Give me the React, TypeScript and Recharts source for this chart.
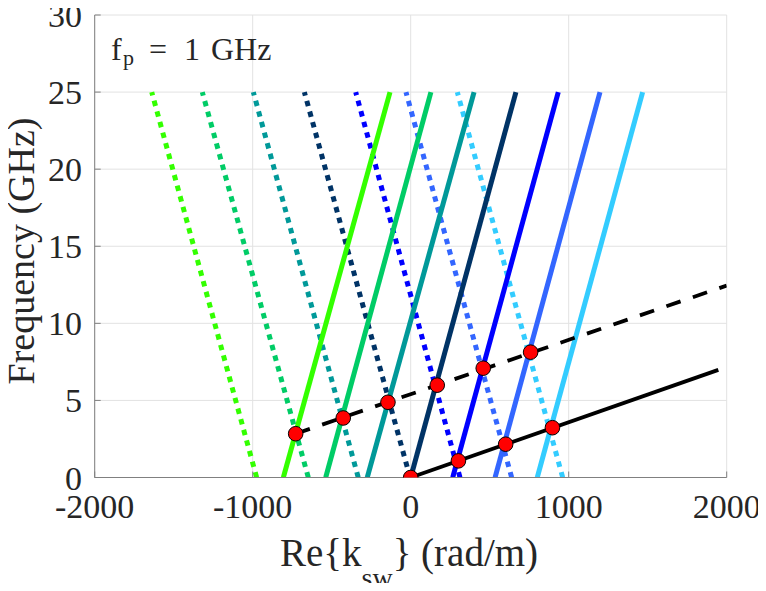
import {
  CartesianGrid,
  ComposedChart,
  Line,
  Scatter,
  XAxis,
  YAxis,
} from "recharts";

// colours of the seven harmonics, left to right
const harmonicColors = [
  "#33FF00",
  "#00CC66",
  "#009999",
  "#003366",
  "#0000FF",
  "#3366FF",
  "#33CCFF",
];

// each harmonic line runs from f = 0 to f = 25 GHz
const lineFreqs = [0, 25];

// forward (solid) harmonics: k at 0 GHz and at 25 GHz
const solidK0 = [-806, -538, -275, 0, 266, 534, 801];
const solidK25 = [-131, 128, 401, 666, 934, 1198, 1468];

// backward (dotted) harmonics: k at 0 GHz and at 25 GHz
const dottedK0 = [-975, -648, -332, -4, 312, 639, 962];
const dottedK25 = [-1639, -1319, -996, -673, -348, -30, 295];

// black solid line (pump) and black dashed line
const pumpK = [0, 1947];
const pumpF = [0, 6.98];
const dashK = [-728, 2000];
const dashF = [2.84, 12.45];

// red intersection markers
const dotK = [0, 302, 601, 897, -728, -427, -144, 168, 459, 759];
const dotF = [0, 1.08, 2.16, 3.23, 2.84, 3.86, 4.88, 5.99, 7.09, 8.13];

const xTicks = [-2000, -1000, 0, 1000, 2000];
const yTicks = [0, 5, 10, 15, 20, 25, 30];

const toRows = (ks: number[], fs: number[]) =>
  ks.map((k, i) => ({ k, f: fs[i] }));

const solidLines = solidK0.map((k0, i) => toRows([k0, solidK25[i]], lineFreqs));
const dottedLines = dottedK0.map((k0, i) =>
  toRows([k0, dottedK25[i]], lineFreqs)
);
const pumpLine = toRows(pumpK, pumpF);
const dashLine = toRows(dashK, dashF);
const dots = toRows(dotK, dotF);

const serif =
  '"Times New Roman", "Liberation Serif", Tinos, "DejaVu Serif", serif';
const tickStyle = {
  fontSize: 34,
  fill: "#262626",
  fontFamily: serif,
};

export default function App() {
  return (
    <div style={{ margin: -8, fontFamily: serif }}>
      <ComposedChart
        width={766}
        height={591}
        margin={{ top: 15, right: 39.3, left: 34.7, bottom: 53.5 }}
      >
        <CartesianGrid stroke="#e2e2e2" strokeWidth={1} />
        <XAxis
          dataKey="k"
          type="number"
          domain={[-2000, 2000]}
          ticks={xTicks}
          allowDataOverflow
          height={60}
          tickSize={-6}
          tickMargin={22.8}
          stroke="#808080"
          tick={tickStyle}
          interval={0}
        />
        <XAxis
          xAxisId="top"
          orientation="top"
          dataKey="k"
          type="number"
          domain={[-2000, 2000]}
          ticks={xTicks}
          height={0}
          tickSize={-6}
          tickFormatter={() => ""}
          stroke="#262626"
        />
        <YAxis
          dataKey="f"
          type="number"
          domain={[0, 30]}
          ticks={yTicks}
          allowDataOverflow
          width={60}
          tickSize={-6}
          tickMargin={18.7}
          stroke="#808080"
          tick={tickStyle}
          interval={0}
        />
        <YAxis
          yAxisId="right"
          orientation="right"
          type="number"
          domain={[0, 30]}
          ticks={yTicks}
          width={0}
          tickSize={-6}
          tickFormatter={() => ""}
          stroke="#262626"
        />
        {dottedLines.map((rows, i) => (
          <Line
            key={`dot-${i}`}
            data={rows}
            dataKey="f"
            type="linear"
            stroke={harmonicColors[i]}
            strokeWidth={5}
            strokeDasharray="5.5 5.5"
            dot={false}
            activeDot={false}
            isAnimationActive={false}
          />
        ))}
        {solidLines.map((rows, i) => (
          <Line
            key={`sol-${i}`}
            data={rows}
            dataKey="f"
            type="linear"
            stroke={harmonicColors[i]}
            strokeWidth={5}
            dot={false}
            activeDot={false}
            isAnimationActive={false}
          />
        ))}
        <Line
          data={pumpLine}
          dataKey="f"
          type="linear"
          stroke="#000000"
          strokeWidth={3.8}
          dot={false}
          activeDot={false}
          isAnimationActive={false}
        />
        <Line
          data={dashLine}
          dataKey="f"
          type="linear"
          stroke="#000000"
          strokeWidth={3.8}
          strokeDasharray="15 13"
          dot={false}
          activeDot={false}
          isAnimationActive={false}
        />
        <Scatter
          data={dots}
          dataKey="f"
          isAnimationActive={false}
          shape={(p: any) => (
            <circle
              cx={p.cx}
              cy={p.cy}
              r={7.3}
              fill="#FF0000"
              stroke="#000000"
              strokeWidth={1}
            />
          )}
        />
        <g fontFamily={serif} fill="#262626">
          <text x={111} y={60} fontSize={32}>f</text>
          <text x={123} y={65} fontSize={22}>p</text>
          <text x={149} y={60} fontSize={32}>=</text>
          <text x={184} y={60} fontSize={32}>1</text>
          <text x={211} y={60} fontSize={32}>GHz</text>
          <text x={409} y={566} fontSize={39} textAnchor="middle">
            Re{"{"}k
            <tspan fontSize={28} dy={21}>sw</tspan>
            <tspan dy={-21}>{"} (rad/m)"}</tspan>
          </text>
          <text
            x={34}
            y={251}
            fontSize={38}
            textAnchor="middle"
            transform="rotate(-90, 34, 251)"
          >
            Frequency (GHz)
          </text>
        </g>
      </ComposedChart>
    </div>
  );
}
